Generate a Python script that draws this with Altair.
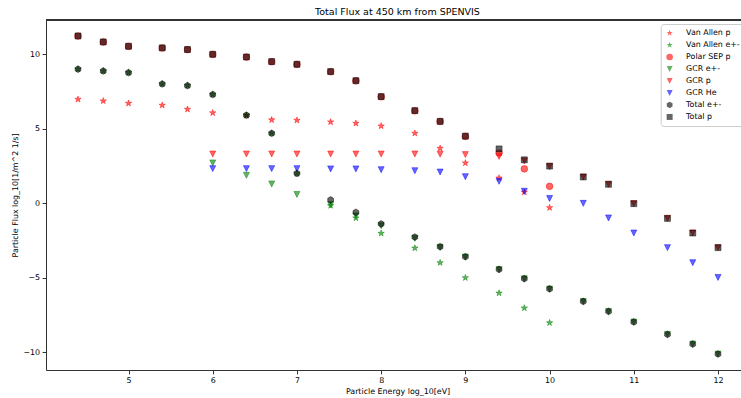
import altair as alt
import pandas as pd

# ---- data ----
energy_all = [4.4, 4.7, 5.0, 5.4, 5.7, 6.0, 6.4, 6.7, 7.0, 7.4, 7.7, 8.0,
              8.4, 8.7, 9.0, 9.4, 9.7, 10.0, 10.4, 10.7, 11.0, 11.4, 11.7, 12.0]
energy_low = energy_all[:18]      # 4.4 .. 10.0
energy_gcr = energy_all[5:]       # 6.0 .. 12.0

van_allen_p = [6.98, 6.87, 6.71, 6.58, 6.31, 6.07, 5.90, 5.60, 5.57, 5.46, 5.37, 5.19,
               4.70, 3.69, 2.71, 1.70, 0.75, -0.29]
van_allen_e = [9.00, 8.88, 8.77, 8.01, 7.90, 7.30, 5.91, 4.70, 1.99, -0.15, -0.98, -2.01,
               -3.00, -3.98, -4.99, -6.02, -7.02, -8.01]
polar_sep_p = [11.22, 10.82, 10.53, 10.42, 10.31, 9.99, 9.81, 9.50, 9.32, 8.83, 8.22, 7.15,
               6.21, 5.49, 4.49, 3.38, 2.31, 1.14]
gcr_e = [2.71, 1.88, 1.30, 0.60, -0.09, -0.84, -1.50, -2.35, -2.95, -3.60, -4.44, -5.06,
         -5.75, -6.58, -7.25, -7.96, -8.79, -9.44, -10.11]
gcr_p = [3.31, 3.31, 3.31, 3.31, 3.31, 3.31, 3.31, 3.31, 3.30, 3.27, 3.15, 2.85,
         2.47, 1.77, 1.28, -0.02, -1.01, -1.99, -2.97]
gcr_he = [2.33, 2.33, 2.33, 2.33, 2.31, 2.31, 2.26, 2.19, 2.10, 1.79, 1.48, 0.81,
          0.33, 0.00, -0.98, -1.99, -2.97, -3.98, -4.97]
total_e = [9.00, 8.88, 8.77, 8.01, 7.90, 7.30, 5.91, 4.70, 2.01, 0.23, -0.60, -1.38,
           -2.26, -2.91, -3.58, -4.43, -5.05, -5.74, -6.58, -7.25, -7.96, -8.79, -9.44, -10.11]
total_p = [11.23, 10.83, 10.54, 10.43, 10.32, 10.00, 9.82, 9.51, 9.33, 8.84, 8.23, 7.16,
           6.22, 5.50, 4.51, 3.65, 2.92, 2.50, 1.77, 1.28, -0.02, -1.01, -1.99, -2.97]

series_names = ["Van Allen p", "Van Allen e+-", "Polar SEP p", "GCR e+-",
                "GCR p", "GCR He", "Total e+-", "Total p"]
series_x = [energy_low, energy_low, energy_low, energy_gcr,
            energy_gcr, energy_gcr, energy_all, energy_all]
series_y = [van_allen_p, van_allen_e, polar_sep_p, gcr_e,
            gcr_p, gcr_he, total_e, total_p]
series_colors = ["red", "green", "red", "green", "red", "blue", "black", "black"]

STAR = ("M0,-1L0.2245,-0.309L0.9511,-0.309L0.3633,0.118L0.5878,0.809L0,0.382"
        "L-0.5878,0.809L-0.3633,0.118L-0.9511,-0.309L-0.2245,-0.309Z")
TRI_DOWN = "M0,0.9L0.9,-0.9L-0.9,-0.9Z"
HEXAGON = "M0,-1L0.866,-0.5L0.866,0.5L0,1L-0.866,0.5L-0.866,-0.5Z"
SQUARE = "M-0.9,-0.9L0.9,-0.9L0.9,0.9L-0.9,0.9Z"
series_shapes = [STAR, STAR, "circle", TRI_DOWN, TRI_DOWN, TRI_DOWN, HEXAGON, SQUARE]

rows = []
for name, xs, ys in zip(series_names, series_x, series_y):
    for xv, yv in zip(xs, ys):
        rows.append({"series": name, "energy": xv, "flux": yv})
df = pd.DataFrame(rows)

W, H = 695, 350
FONT = "DejaVu Sans"

leg = alt.Legend(title=None, orient="none", legendX=614.7, legendY=4,
                 fillColor="white", strokeColor="#cccccc", cornerRadius=3,
                 padding=5, rowPadding=3.0, labelFontSize=7.9, labelFont=FONT,
                 labelColor="black", symbolSize=44, symbolOpacity=0.6,
                 symbolStrokeWidth=0, labelOffset=12.5, symbolOffset=0)

color_scale = alt.Scale(domain=series_names, range=series_colors)
shape_scale = alt.Scale(domain=series_names, range=series_shapes)

points = alt.Chart(df).mark_point(
    filled=True, fillOpacity=0.6, strokeOpacity=0.6, strokeWidth=0.8, size=44
).encode(
    x=alt.X("energy:Q",
            scale=alt.Scale(domain=[4.02, 12.273], nice=False, zero=False),
            axis=alt.Axis(values=[5, 6, 7, 8, 9, 10, 11, 12], format="d",
                          title="Particle Energy log_10[eV]",
                          titleX=351.5, titleY=21.7, titleBaseline="middle",
                          titleAlign="center", labelPadding=2.5)),
    y=alt.Y("flux:Q",
            scale=alt.Scale(domain=[-11.18, 12.30], nice=False, zero=False),
            axis=alt.Axis(values=[-10, -5, 0, 5, 10], format="d",
                          title="Particle Flux log_10[1/m^2 1/s]",
                          titleX=-31, titleY=175, titleAngle=270,
                          titleBaseline="middle", titleAlign="center",
                          labelPadding=2.5)),
    color=alt.Color("series:N", scale=color_scale, legend=leg),
    shape=alt.Shape("series:N", scale=shape_scale, legend=leg),
    stroke=alt.Stroke("series:N", scale=color_scale, legend=None),
)

top_rule = alt.Chart(df).mark_rule(color="#333333", strokeWidth=1).encode(
    x=alt.value(0), x2=alt.value(W), y=alt.value(0)
)

chart = alt.layer(points, top_rule).properties(
    width=W, height=H,
    padding={"left": 46, "top": 20, "right": 0, "bottom": 28},
    autosize=alt.AutoSizeParams(type="none"),
    background="white",
    title=alt.TitleParams(text="Total Flux at 450 km from SPENVIS", fontSize=9.5,
                          font=FONT, fontWeight="normal", color="black",
                          offset=6, baseline="alphabetic", anchor="middle",
                          dx=4, dy=10.5),
).configure_view(stroke=None).configure_axis(
    grid=False, domainColor="#333333", domainWidth=1, tickColor="#333333",
    tickSize=3.9, tickWidth=1, labelFont=FONT, labelFontSize=7.9,
    labelColor="black", titleFont=FONT, titleFontSize=7.9,
    titleFontWeight="normal", titleColor="black"
)

chart.save("out.html", embed_options={"renderer": "svg", "actions": False})
